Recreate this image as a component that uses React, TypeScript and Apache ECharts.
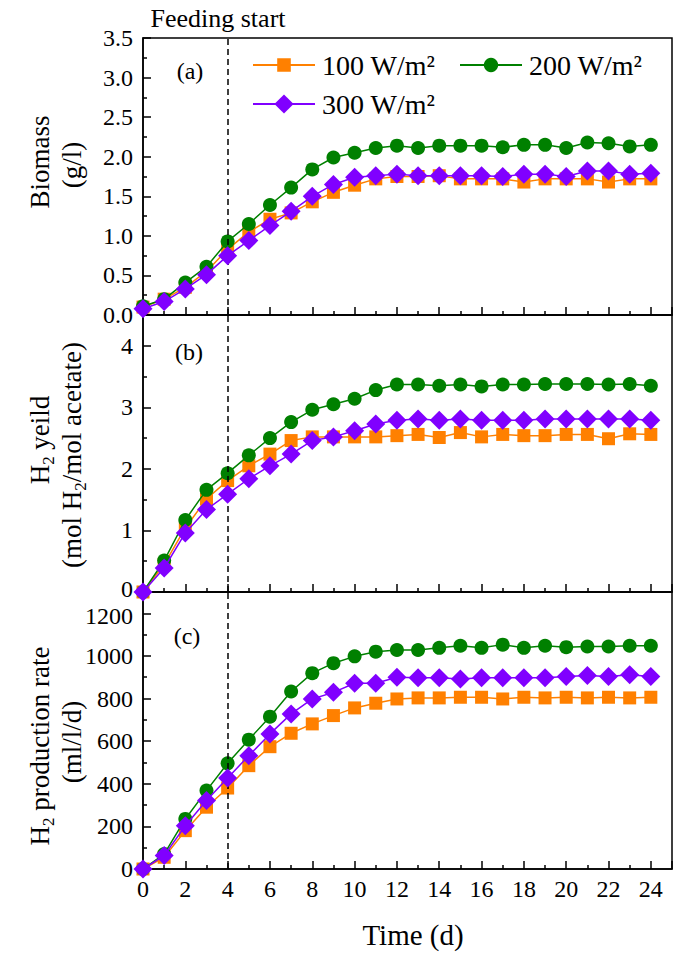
import React, { useEffect, useRef } from "react";
import * as echarts from "echarts";

const days = [0, 1, 2, 3, 4, 5, 6, 7, 8, 9, 10, 11, 12, 13, 14, 15, 16, 17, 18, 19, 20, 21, 22, 23, 24];
const xTickLabels = ["0", "2", "4", "6", "8", "10", "12", "14", "16", "18", "20", "22", "24"];
const seriesNames = ["100 W/m²", "200 W/m²", "300 W/m²"];
const feedingStartDay = 4;

const biomass100 = [0.1, 0.2, 0.35, 0.55, 0.83, 1.05, 1.21, 1.29, 1.43, 1.55, 1.64, 1.72, 1.75, 1.75, 1.76, 1.72, 1.72, 1.72, 1.68, 1.72, 1.72, 1.72, 1.68, 1.72, 1.72];
const biomass200 = [0.11, 0.2, 0.41, 0.61, 0.93, 1.15, 1.39, 1.61, 1.84, 1.99, 2.05, 2.11, 2.14, 2.11, 2.14, 2.14, 2.14, 2.12, 2.15, 2.15, 2.11, 2.18, 2.17, 2.13, 2.15];
const biomass300 = [0.08, 0.17, 0.33, 0.51, 0.75, 0.94, 1.13, 1.31, 1.5, 1.65, 1.74, 1.76, 1.78, 1.76, 1.76, 1.76, 1.76, 1.75, 1.78, 1.78, 1.75, 1.82, 1.82, 1.78, 1.79];

const yield100 = [0, 0.45, 1.04, 1.51, 1.81, 2.05, 2.24, 2.46, 2.52, 2.52, 2.52, 2.52, 2.54, 2.56, 2.51, 2.59, 2.52, 2.56, 2.54, 2.54, 2.56, 2.56, 2.49, 2.57, 2.56];
const yield200 = [0, 0.51, 1.17, 1.66, 1.93, 2.22, 2.5, 2.76, 2.96, 3.05, 3.14, 3.28, 3.37, 3.37, 3.35, 3.37, 3.34, 3.37, 3.37, 3.38, 3.38, 3.38, 3.37, 3.38, 3.35];
const yield300 = [0, 0.39, 0.96, 1.34, 1.59, 1.84, 2.05, 2.24, 2.46, 2.52, 2.62, 2.73, 2.79, 2.81, 2.79, 2.81, 2.79, 2.79, 2.79, 2.81, 2.81, 2.81, 2.81, 2.81, 2.79];

const rate100 = [0, 55, 180, 290, 380, 485, 574, 637, 681, 720, 756, 778, 798, 803, 803, 806, 806, 798, 806, 803, 806, 803, 806, 803, 806];
const rate200 = [0, 70, 235, 368, 496, 607, 715, 833, 919, 966, 998, 1020, 1028, 1028, 1038, 1048, 1038, 1053, 1038, 1048, 1041, 1044, 1044, 1048, 1048];
const rate300 = [0, 63, 203, 321, 427, 532, 634, 728, 798, 829, 872, 872, 900, 897, 897, 892, 897, 897, 897, 897, 903, 908, 903, 912, 903];

const FAMILY = "Liberation Serif";
const COLORS = ["#FF8000", "#008000", "#8000FF"];
const SYMBOLS = ["rect", "circle", "diamond"];
const SYMBOL_SIZES = [13, 14, 19];

export default function App() {
  const ref = useRef<HTMLDivElement>(null);

  useEffect(() => {
    if (!ref.current) return;
    const chart = echarts.init(ref.current, undefined, { renderer: "svg" });

    const gridTops = [38, 315, 592];
    const grids = gridTops.map((top) => ({
      left: 143,
      top,
      width: 529,
      height: 277,
      show: true,
      borderColor: "#000",
      borderWidth: 1.5,
      backgroundColor: "transparent",
    }));

    const xAxes = [0, 1, 2].map((i) => ({
      type: "value",
      gridIndex: i,
      min: 0,
      max: 25,
      interval: 2,
      axisLine: { show: true, lineStyle: { color: "#000", width: 1.5 } },
      axisTick: { show: true, inside: true, length: 8, lineStyle: { color: "#000", width: 1.5 } },
      minorTick: { show: true, splitNumber: 2, length: 4, lineStyle: { color: "#000", width: 1.5 } },
      splitLine: { show: false },
      axisLabel: {
        show: i === 2,
        color: "#000",
        fontFamily: FAMILY,
        fontSize: 24,
        margin: 8,
        formatter: (v: number) => (xTickLabels.includes(String(v)) ? String(v) : ""),
      },
    }));

    const yCfg = [
      { min: 0, max: 3.5, interval: 0.5, fmt: (v: number) => v.toFixed(1) },
      {
        min: 0,
        max: 4.5,
        interval: 1,
        fmt: (v: number) => (v === 0 ? "{up|0}" : Number.isInteger(v) && v <= 4 ? String(v) : ""),
      },
      {
        min: 0,
        max: 1300,
        interval: 200,
        fmt: (v: number) => (v === 1200 ? "{dn|1200}" : v % 200 === 0 && v < 1200 ? String(v) : ""),
      },
    ];
    const yAxes = yCfg.map((c, i) => ({
      type: "value",
      gridIndex: i,
      min: c.min,
      max: c.max,
      interval: c.interval,
      axisLine: { show: true, lineStyle: { color: "#000", width: 1.5 } },
      axisTick: { show: true, inside: true, length: 8, lineStyle: { color: "#000", width: 1.5 } },
      minorTick: { show: true, splitNumber: 2, length: 4, lineStyle: { color: "#000", width: 1.5 } },
      splitLine: { show: false },
      axisLabel: {
        color: "#000",
        fontFamily: FAMILY,
        fontSize: 24,
        margin: 10,
        formatter: c.fmt,
        rich: {
          up: { fontFamily: FAMILY, fontSize: 24, color: "#000", padding: [0, 0, 6, 0] },
          dn: { fontFamily: FAMILY, fontSize: 24, color: "#000", padding: [6, 0, 0, 0] },
        },
      },
    }));

    const panels = [
      [biomass100, biomass200, biomass300],
      [yield100, yield200, yield300],
      [rate100, rate200, rate300],
    ];

    const series: any[] = [];
    panels.forEach((arrs, p) => {
      arrs.forEach((arr, k) => {
        const s: any = {
          type: "line",
          name: seriesNames[k],
          xAxisIndex: p,
          yAxisIndex: p,
          data: days.map((d, i) => [d, arr[i]]),
          symbol: SYMBOLS[k],
          symbolSize: SYMBOL_SIZES[k],
          showAllSymbol: true,
          color: COLORS[k],
          itemStyle: { color: COLORS[k] },
          lineStyle: { color: COLORS[k], width: 1.5 },
          z: 3 + k,
        };
        if (k === 0) {
          s.markLine = {
            silent: true,
            symbol: ["none", "none"],
            label: { show: false },
            lineStyle: { color: "#000", type: [6, 4], width: 1.5 },
            data: [{ xAxis: feedingStartDay }],
          };
        }
        series.push(s);
      });
    });

    const legendBase = {
      orient: "horizontal",
      itemWidth: 62,
      textStyle: { color: "#000", fontFamily: FAMILY, fontSize: 28, padding: [0, 0, 0, 2] },
      inactiveColor: "#ccc",
    };

    const subRich = {
      a: { font: `27px '${FAMILY}'`, fontFamily: FAMILY, fontSize: 27, fill: "#000" },
      b: { font: `17px '${FAMILY}'`, fontFamily: FAMILY, fontSize: 17, fill: "#000", padding: [16, 0, 0, 0] },
    };

    const vText = (x: number, y: number, text: string) => ({
      type: "text",
      x,
      y,
      rotation: Math.PI / 2,
      style: {
        text,
        fill: "#000",
        font: `27px '${FAMILY}'`,
        fontFamily: FAMILY,
        fontSize: 27,
        align: "center",
        verticalAlign: "middle",
        rich: subRich,
      },
    });
    const hText = (x: number, y: number, text: string, size: number) => ({
      type: "text",
      x,
      y,
      style: {
        text,
        fill: "#000",
        font: `${size}px '${FAMILY}'`,
        fontFamily: FAMILY,
        fontSize: size,
        align: "center",
        verticalAlign: "middle",
      },
    });

    chart.setOption({
      animation: false,
      backgroundColor: "#fff",
      grid: grids,
      xAxis: xAxes,
      yAxis: yAxes,
      series,
      legend: [
        { ...legendBase, data: [seriesNames[0]], left: 247, top: 46, itemHeight: 17 },
        { ...legendBase, data: [seriesNames[1]], left: 454, top: 46, itemHeight: 18 },
        { ...legendBase, data: [seriesNames[2]], left: 247, top: 85, itemHeight: 24 },
      ],
      graphic: [
        hText(218, 18, "Feeding start", 26),
        hText(190, 71, "(a)", 24),
        hText(189, 352, "(b)", 24),
        hText(187, 636, "(c)", 24),
        hText(413, 935, "Time (d)", 29),
        vText(40, 162, "Biomass"),
        vText(72, 165, "(g/l)"),
        vText(40, 440, "{a|H}{b|2}{a| yeild}"),
        vText(72, 455, "{a|(mol H}{b|2}{a|/mol acetate)}"),
        vText(40, 746, "{a|H}{b|2}{a| production rate}"),
        vText(72, 742, "(ml/l/d)"),
      ],
    });

    return () => chart.dispose();
  }, []);

  return (
    <div
      ref={ref}
      style={{ position: "fixed", left: 0, top: 0, width: 675, height: 953, background: "#fff" }}
    />
  );
}
